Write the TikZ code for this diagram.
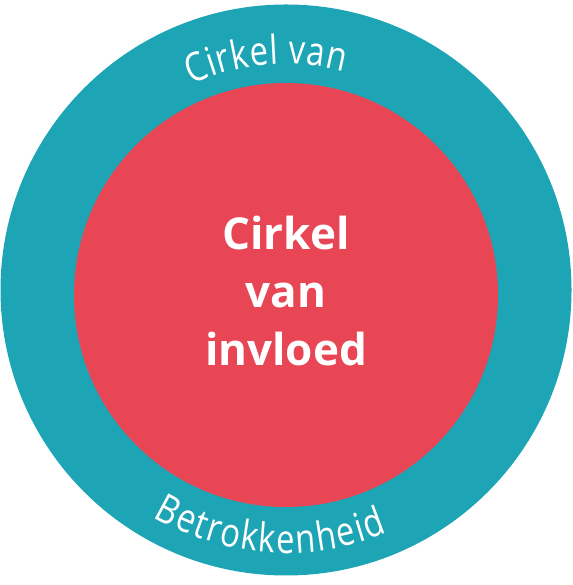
\documentclass[tikz,border=0pt]{standalone}
\usepackage{fontspec}
\setmainfont{Open Sans}
\newfontfamily\ringfont[FakeStretch=0.82]{Open Sans}
\usetikzlibrary{decorations.text}
\definecolor{ringteal}{RGB}{29,165,181}
\definecolor{corered}{RGB}{232,70,84}

\begin{document}
\begin{tikzpicture}[x=1pt, y=1pt]
	\tikzstyle{disc} = [circle, draw=none, inner sep=0pt]
	\tikzstyle{ringtext} = [decorate, decoration={text along path, text align=center, text color=white}]
	
	\useasboundingbox (0,0) rectangle (572,585);
	\node[disc, fill=ringteal, minimum size=571pt] 	at (286,295) 	(outer) 	{};
	\node[disc, fill=corered, minimum size=424pt] 	at (286,290) 	(inner) 	{};
	\node[align=center, text=white, font=\bfseries\fontsize{44}{58}\selectfont] 	at (286,294) 	(label) 	{Cirkel\\van\\invloed};
	
	\path[ringtext, decoration={text={|\ringfont\fontsize{40}{40}\selectfont\kern0.8pt|Cirkel van}}]
		([shift={(151:226pt)}]outer.center) arc (151:39:226pt);
	\path[ringtext, decoration={text={|\ringfont\fontsize{40}{40}\selectfont\kern1.6pt|Betrokkenheid}}]
		([shift={(208:263pt)}]outer.center) arc (208:324:263pt);
\end{tikzpicture}
\end{document}
